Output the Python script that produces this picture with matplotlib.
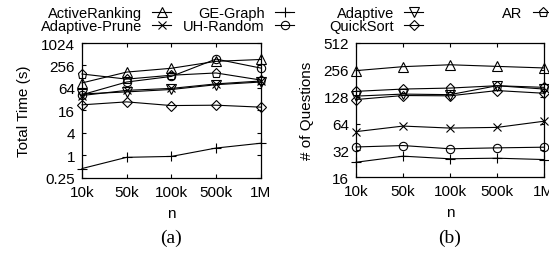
import matplotlib
matplotlib.use("Agg")
import matplotlib.pyplot as plt

plt.rcParams['font.family'] = ['Liberation Sans', 'DejaVu Sans']

n_labels = ['10k', '50k', '100k', '500k', '1M']
series_names = ['ActiveRanking', 'GE-Graph', 'Adaptive', 'AR',
                'Adaptive-Prune', 'UH-Random', 'QuickSort']
markers = {'ActiveRanking': '^', 'GE-Graph': '+', 'Adaptive': 'v', 'AR': 'p',
           'Adaptive-Prune': 'x', 'UH-Random': 'o', 'QuickSort': 'D'}

# (a) Total time (s)
time_ActiveRanking = [87, 170, 215, 330, 370]
time_GEGraph = [0.44, 0.88, 0.93, 1.56, 2.1]
time_Adaptive = [44, 50, 58, 78, 92]
time_AR = [151, 110, 140, 161, 104]
time_AdaptivePrune = [40, 55, 62, 82, 98]
time_UHRandom = [42, 92, 130, 380, 218]
time_QuickSort = [22.5, 27, 21.5, 22, 19.5]

# (b) # of questions
q_ActiveRanking = [251, 278, 292, 280, 269]
q_GEGraph = [23.6, 27.6, 25.8, 26.2, 25.3]
q_Adaptive = [130, 137, 135, 170, 156]
q_AR = [147, 156, 160, 170, 163]
q_AdaptivePrune = [52, 60, 57, 58, 68]
q_UHRandom = [35, 36.3, 33.4, 34.2, 34.8]
q_QuickSort = [119, 132, 131, 150, 140]

time_data = [time_ActiveRanking, time_GEGraph, time_Adaptive, time_AR,
             time_AdaptivePrune, time_UHRandom, time_QuickSort]
q_data = [q_ActiveRanking, q_GEGraph, q_Adaptive, q_AR,
          q_AdaptivePrune, q_UHRandom, q_QuickSort]

time_ticks = [0.25, 1, 4, 16, 64, 256, 1024]
time_tick_labels = ['0.25', '1', '4', '16', '64', '256', '1024']
q_ticks = [16, 32, 64, 128, 256, 512]
q_tick_labels = ['16', '32', '64', '128', '256', '512']

W, H = 549, 255
fig = plt.figure(figsize=(W / 100, H / 100), dpi=100)
ax_a = fig.add_axes([82 / W, 1 - 178.7 / H, (260.7 - 82) / W, (178.7 - 44) / H])
ax_b = fig.add_axes([356 / W, 1 - 178.3 / H, (544 - 356) / W, (178.3 - 44) / H])

FS = 11
LFS = 10.5
x = list(range(len(n_labels)))

def draw(ax, data, ticks, labels, ylim, ylabel, tag):
    handles = {}
    for name, vals in zip(series_names, data):
        m = markers[name]
        ms = {'^': 6.5, 'v': 6.5, 'p': 6.5, 'o': 6, 'D': 5, 'x': 6, '+': 7}[m]
        ln, = ax.plot(x, vals, color='black', lw=0.8, marker=m, ms=ms,
                      mfc='none', mec='black', mew=0.8, label=name, clip_on=False)
        handles[name] = ln
    ax.set_yscale('log', base=2)
    ax.set_ylim(*ylim)
    ax.set_xlim(0, len(n_labels) - 1)
    ax.set_yticks(ticks)
    ax.set_yticklabels(labels)
    ax.minorticks_off()
    ax.set_xticks(x)
    ax.set_xticklabels(n_labels)
    ax.tick_params(direction='in', length=3, width=0.8, top=True, right=True,
                   labelsize=FS)
    ax.tick_params(axis='y', pad=5)
    ax.tick_params(axis='x', pad=5)
    for s in ax.spines.values():
        s.set_linewidth(0.9)
    ax.set_xlabel('n', fontsize=FS, labelpad=5)
    ax.set_ylabel(ylabel, fontsize=FS, labelpad=7)
    ax.text(0.5, -0.38, tag, transform=ax.transAxes, ha='center', va='top',
            fontsize=14, family='Liberation Serif')
    return handles

h = draw(ax_a, time_data, time_ticks, time_tick_labels, (0.25, 1024),
         'Total Time (s)', '(a)')
draw(ax_b, q_data, q_ticks, q_tick_labels, (16, 512), '# of Questions', '(b)')

columns = [['ActiveRanking', 'Adaptive-Prune'], ['GE-Graph', 'UH-Random'],
           ['Adaptive', 'QuickSort'], ['AR']]
col_right = [171, 294, 423, 552]
for names, xr in zip(columns, col_right):
    leg = fig.legend(handles=[h[nm] for nm in names], labels=names,
                     loc='upper right', bbox_to_anchor=(xr / W, 1 - 7 / H),
                     frameon=False, markerfirst=False, fontsize=LFS,
                     handlelength=1.3, handletextpad=0.7, labelspacing=-0.06,
                     borderpad=0, borderaxespad=0)

fig.savefig('out.png', dpi=100)
